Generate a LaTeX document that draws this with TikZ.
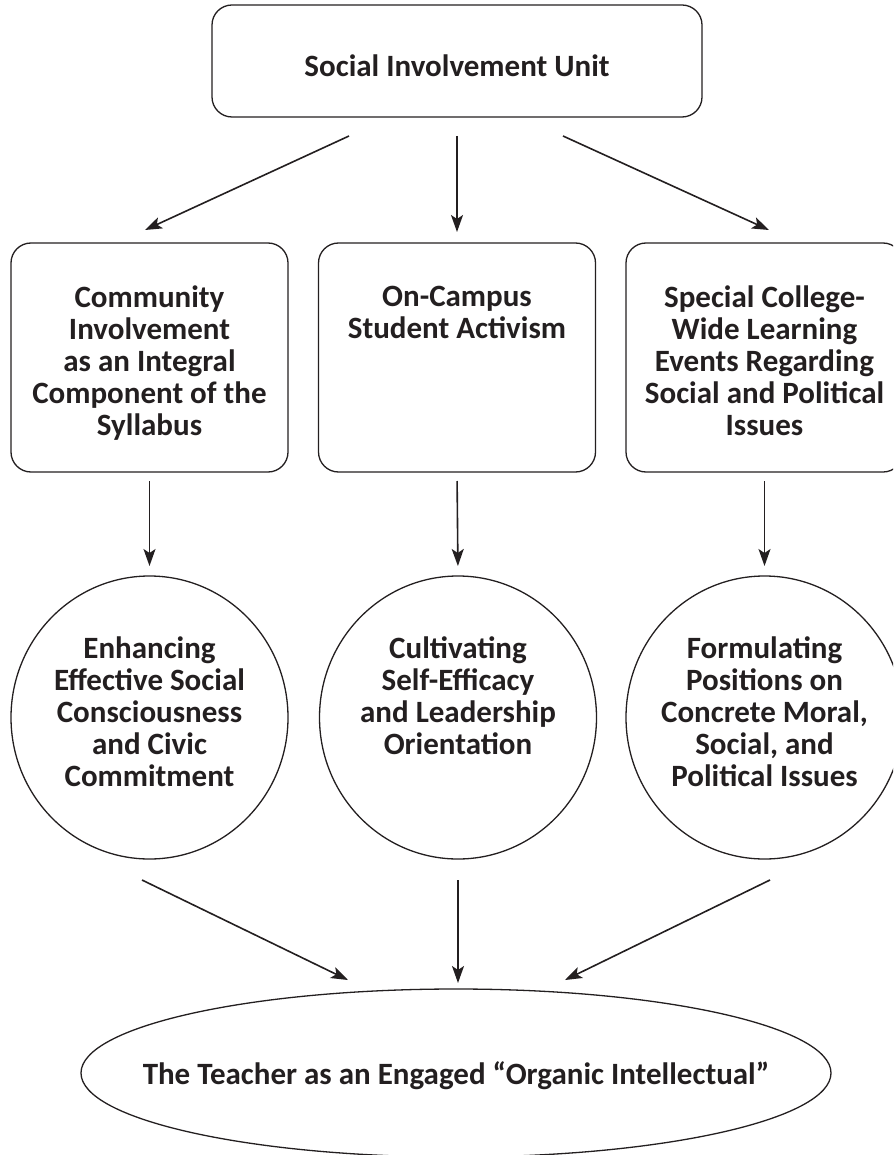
\documentclass[tikz,border=0pt]{standalone}
\usepackage{fontspec}
\setmainfont{Carlito}
\usetikzlibrary{arrows.meta,shapes.geometric}
\definecolor{ink}{HTML}{231F20}
\begin{document}
\begin{tikzpicture}[x=1pt,y=-1pt,
  every node/.style={inner sep=0pt,outer sep=0pt},
  rbox/.style={draw=ink,line width=1.3pt,rounded corners=20pt,
    minimum width=277pt,minimum height=229pt},
  oval/.style={draw=ink,line width=1.3pt,ellipse},
  lbl/.style={text=ink,font=\fontsize{31}{32}\selectfont\bfseries,align=center},
  link/.style={draw=ink,line width=1.6pt,
    -{Stealth[length=17pt,width=12pt,inset=4pt]}}]
\useasboundingbox (0,0) rectangle (893,1155);
\clip (0,0) rectangle (893,1155);

% top unit
\node[draw=ink,line width=1.3pt,rounded corners=20pt,
  minimum width=490pt,minimum height=112pt] (unit) at (457,61) {};
\node[lbl,anchor=base] (unitt) at (457,77) {Social Involvement Unit};

% three programme boxes
\node[rbox] (b1) at (149.5,357.5) {};
\node[rbox] (b2) at (457,357.5) {};
\node[rbox] (b3) at (764.5,357.5) {};
\node[lbl,anchor=north] (b1t) at (149.5,286) {Community\\Involvement\\as an Integral\\Component of the\\Syllabus};
\node[lbl,anchor=north] (b2t) at (457,286) {On-Campus\\Student Activism};
\node[lbl,anchor=north] (b3t) at (764.5,286) {Special College-\\Wide Learning\\Events Regarding\\Social and Political\\Issues};

% three outcome circles
\node[oval,minimum width=277pt,minimum height=283pt] (c1) at (149.5,717.5) {};
\node[oval,minimum width=277pt,minimum height=283pt] (c2) at (458,717.5) {};
\node[oval,minimum width=277pt,minimum height=283pt] (c3) at (764.5,717.5) {};
\node[lbl,anchor=north] (c1t) at (149.5,637) {Enhancing\\Effective Social\\Consciousness\\and Civic\\Commitment};
\node[lbl,anchor=north] (c2t) at (458,637) {Cultivating\\Self-Efficacy\\and Leadership\\Orientation};
\node[lbl,anchor=north] (c3t) at (764.5,637) {Formulating\\Positions on\\Concrete Moral,\\Social, and\\Political Issues};

% final ellipse
\node[oval,minimum width=750pt,minimum height=168pt] (goal) at (456,1073) {};
\node[lbl,anchor=base] (goalt) at (456,1084) {The Teacher as an Engaged “Organic Intellectual”};

% arrow end points
\coordinate (u1) at (349,136);
\coordinate (e1) at (145,230);
\coordinate (u3) at (563,136);
\coordinate (e3) at (769,230);
\coordinate (s1) at (142,880);
\coordinate (g1) at (348,980);
\coordinate (s3) at (770,880);
\coordinate (g3) at (565,980);

% arrows
\draw[link] (u1) -- (e1);
\draw[link,shorten <=19pt,shorten >=11pt] (unit.south -| b2.north) -- (b2.north);
\draw[link] (u3) -- (e3);
\draw[link,shorten <=9pt,shorten >=10pt] (b1.south) -- (c1.north);
\draw[link,shorten <=9pt,shorten >=10pt] (b2.south) -- (c2.north);
\draw[link,shorten <=9pt,shorten >=10pt] (b3.south) -- (c3.north);
\draw[link] (s1) -- (g1);
\draw[link,shorten <=21pt,shorten >=6pt] (c2.south) -- (c2.south |- goal.north);
\draw[link] (s3) -- (g3);
\end{tikzpicture}
\end{document}
